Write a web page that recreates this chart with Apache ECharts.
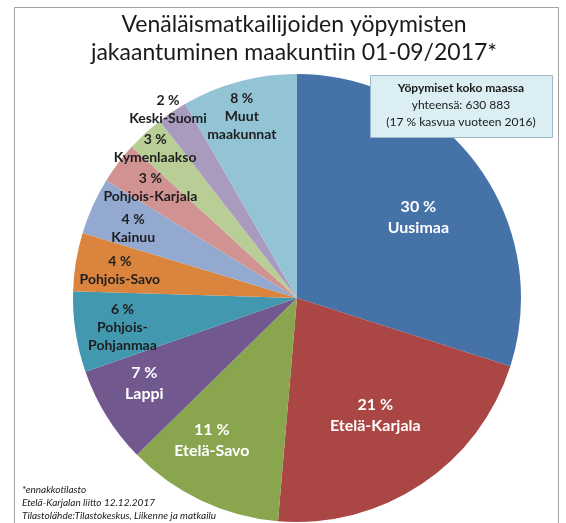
<!DOCTYPE html>
<html>
<head>
<meta charset="utf-8">
<script src="https://cdn.jsdelivr.net/npm/echarts@6/dist/echarts.min.js"></script>
<style>
html,body{margin:0;padding:0;background:#fff;}
#chart{width:566px;height:523px;}
</style>
</head>
<body>
<div id="chart"></div>
<script>
// ---- data ----
const categories = ['Uusimaa','Etelä-Karjala','Etelä-Savo','Lappi','Pohjois-Pohjanmaa','Pohjois-Savo','Kainuu','Pohjois-Karjala','Kymenlaakso','Keski-Suomi','Muut maakunnat'];
const shares = [29.9, 21.4, 11.3, 7.0, 5.8, 4.2, 4.1, 3.0, 2.7, 2.2, 8.3];
const titleLines = ['Venäläismatkailijoiden yöpymisten', 'jakaantuminen maakuntiin 01-09/2017*'];
const infoLines = ['Yöpymiset koko maassa', 'yhteensä: 630 883', '(17 % kasvua vuoteen 2016)'];
const noteLines = ['*ennakkotilasto', 'Etelä-Karjalan liitto 12.12.2017', 'Tilastolähde:Tilastokeskus, Liikenne ja matkailu'];

// ---- style ----
const colors = ['#4572A7','#AA4643','#89A54E','#71588F','#4198AF','#DB843D','#93A9CF','#D19392','#B9CD96','#A99BBD','#93C4D5'];
const whiteLabel = [true, true, true, true, false, false, false, false, false, false, false];
const labelRadius = [0.65, 0.63, 0.74, 0.78, 0.79, 0.80, 0.795, 0.82, 0.92, 1.02, 0.845];
const labelAngleShift = [2.6, 0, 5.7, 2.7, -0.7, -0.6, -1.2, 0, -0.8, -0.5, -2];
const CX = 297, CY = 298, R = 224;
const FONT = 'Lato, "Open Sans", sans-serif';

function displayName(n) {
  if (n === 'Pohjois-Pohjanmaa') return 'Pohjois-\nPohjanmaa';
  if (n === 'Muut maakunnat') return 'Muut\nmaakunnat';
  return n;
}

const total = shares.reduce((a, b) => a + b, 0);
const midAngles = [];
(function () {
  let acc = 0;
  shares.forEach(v => { midAngles.push((acc + v / 2) / total * 360); acc += v; });
})();

const data = categories.map((c, i) => ({
  name: c,
  value: shares[i],
  itemStyle: { color: colors[i] },
  label: whiteLabel[i]
    ? { color: '#ffffff', fontSize: 16, lineHeight: 21 }
    : { color: '#1e1e1e', fontSize: 14, lineHeight: 18 }
}));

const chart = echarts.init(document.getElementById('chart'));
chart.setOption({
  animation: false,
  graphic: [
    { type: 'rect', shape: { x: 14.5, y: 7.5, width: 544, height: 530 },
      style: { fill: 'none', stroke: '#a0a0a0', lineWidth: 1 }, z: 0 },
    { type: 'text', x: 294, y: 25, style: { text: titleLines[0], font: '23px ' + FONT, fill: '#1a1a1a', textAlign: 'center', textVerticalAlign: 'middle' } },
    { type: 'text', x: 294, y: 53, style: { text: titleLines[1], font: '23px ' + FONT, fill: '#1a1a1a', textAlign: 'center', textVerticalAlign: 'middle' } },
    { type: 'rect', shape: { x: 370.5, y: 75.5, width: 182, height: 62 },
      style: { fill: '#DAEEF3', stroke: '#9fb8c8', lineWidth: 1 }, z: 10 },
    { type: 'text', x: 461, y: 88, z: 11, style: { text: infoLines[0], font: 'bold 12px ' + FONT, fill: '#1a1a1a', textAlign: 'center', textVerticalAlign: 'middle' } },
    { type: 'text', x: 461, y: 105, z: 11, style: { text: infoLines[1], font: '12px ' + FONT, fill: '#1a1a1a', textAlign: 'center', textVerticalAlign: 'middle' } },
    { type: 'text', x: 461, y: 122, z: 11, style: { text: infoLines[2], font: '12px ' + FONT, fill: '#1a1a1a', textAlign: 'center', textVerticalAlign: 'middle' } },
    { type: 'text', x: 22, y: 490, z: 11, style: { text: noteLines[0], font: 'italic 10px ' + FONT, fill: '#1a1a1a', textVerticalAlign: 'middle' } },
    { type: 'text', x: 22, y: 503, z: 11, style: { text: noteLines[1], font: 'italic 10px ' + FONT, fill: '#1a1a1a', textVerticalAlign: 'middle' } },
    { type: 'text', x: 22, y: 516, z: 11, style: { text: noteLines[2], font: 'italic 10px ' + FONT, fill: '#1a1a1a', textVerticalAlign: 'middle' } }
  ],
  series: [{
    type: 'pie',
    center: [CX, CY],
    radius: [0, R],
    startAngle: 90,
    clockwise: true,
    z: 2,
    itemStyle: { borderWidth: 0 },
    emphasis: { disabled: true },
    label: {
      show: true,
      position: 'inside',
      fontFamily: FONT,
      fontWeight: 'bold',
      align: 'center',
      formatter: p => Math.round(p.value) + ' %\n' + displayName(p.name)
    },
    labelLine: { show: false },
    labelLayout: function (p) {
      const i = p.dataIndex;
      const a = (midAngles[i] + labelAngleShift[i]) * Math.PI / 180;
      const d = labelRadius[i] * R;
      return { x: CX + d * Math.sin(a), y: CY - d * Math.cos(a), align: 'center', verticalAlign: 'middle' };
    },
    data: data
  }]
});
</script>
</body>
</html>
